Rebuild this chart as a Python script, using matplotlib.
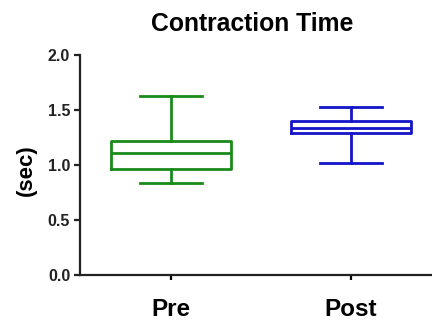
import matplotlib
matplotlib.use("Agg")
import matplotlib.pyplot as plt

plt.rcParams['font.family'] = ['Liberation Sans', 'DejaVu Sans']

# box statistics
groups = ['Pre', 'Post']
whis_lo = [0.84, 1.02]
q1 = [0.96, 1.29]
medians = [1.11, 1.34]
q3 = [1.22, 1.40]
whis_hi = [1.63, 1.53]
colors = ['#1a8a1a', '#1414c8']

stats = []
for i, g in enumerate(groups):
    stats.append({'label': g, 'whislo': whis_lo[i], 'q1': q1[i], 'med': medians[i],
                  'q3': q3[i], 'whishi': whis_hi[i], 'fliers': []})

fig = plt.figure(figsize=(4.32, 3.2), dpi=100)
ax = fig.add_axes([0.185, 0.1406, 0.815, 0.6875])

bp = ax.bxp(stats, positions=[1, 2], widths=0.667, capwidths=0.34,
            showfliers=False, patch_artist=False)
for i, c in enumerate(colors):
    bp['boxes'][i].set(color=c, linewidth=2.0)
    bp['medians'][i].set(color=c, linewidth=2.0)
    for j in (2 * i, 2 * i + 1):
        bp['whiskers'][j].set(color=c, linewidth=2.0)
        bp['caps'][j].set(color=c, linewidth=2.0)

ax.set_xlim(0.494, 2.45)
ax.set_ylim(0, 2.0)
ax.set_yticks([0.0, 0.5, 1.0, 1.5, 2.0])
ax.set_yticklabels(['0.0', '0.5', '1.0', '1.5', '2.0'])
ax.set_xticks([1, 2])
ax.set_xticklabels(groups)

for s in ['top', 'right']:
    ax.spines[s].set_visible(False)
for s in ['left', 'bottom']:
    ax.spines[s].set_linewidth(1.6)
    ax.spines[s].set_color('#222222')

ax.tick_params(axis='y', direction='out', length=4, width=1.6, pad=3,
               labelsize=11.5, colors='#222222')
ax.tick_params(axis='x', direction='out', length=3.5, width=1.6, pad=13,
               labelsize=17.5)
for lbl in ax.get_yticklabels() + ax.get_xticklabels():
    lbl.set_fontweight('bold')

fig.text(252 / 432, 1 - 24 / 320, 'Contraction Time', ha='center', va='center',
         fontsize=17.8, fontweight='bold')
fig.text(26 / 432, 1 - 170 / 320, '(sec)', ha='center', va='center',
         rotation=90, fontsize=16, fontweight='bold')

fig.savefig('out.png', dpi=100)
